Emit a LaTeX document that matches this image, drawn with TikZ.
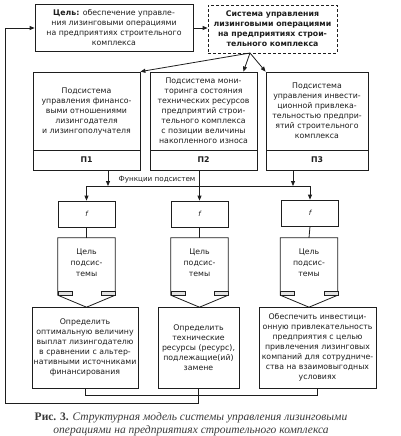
\documentclass[tikz,border=0pt]{standalone}
\usepackage{fontspec}
\setmainfont{DejaVu Sans}
\newfontfamily\capfont{Liberation Serif}
\usepackage{tikz}
\usetikzlibrary{arrows.meta,positioning}
\definecolor{ink}{HTML}{1E1E1E}
\definecolor{tabgray}{HTML}{E2E2E2}
\definecolor{capink}{HTML}{3A3A3A}
\tikzset{
  line/.style={draw=ink, line width=0.8pt, line join=miter},
  arr/.style={line, -{Triangle[length=5pt,width=4pt]}},
  box/.style={line, fill=white, align=center, inner sep=1pt, text=ink,
    font=\fontsize{7.8}{10}\selectfont},
  sysbox/.style={box, dashed, dash pattern=on 3pt off 2pt, font=\fontsize{7.8}{10}\selectfont\bfseries},
  fbox/.style={box, minimum width=57pt, minimum height=26pt, font=\fontsize{7}{9}\selectfont\itshape},
  aim/.style={minimum width=57pt, minimum height=57pt, inner sep=0pt, align=center, text=ink,
    font=\fontsize{7.8}{11}\selectfont},
  tabbox/.style={draw=ink, line width=0.4pt, fill=tabgray},
  lbl/.style={text=ink, font=\fontsize{7.2}{9}\selectfont},
}
\begin{document}
\begin{tikzpicture}[x=1pt,y=-1pt]
  \useasboundingbox (0,0) rectangle (401,436);
  % top row
  \node[box, minimum width=158pt, minimum height=47pt] (goal) at (114,28)
    {\textbf{Цель:} обеспечение управле-\\ния лизинговыми операциями\\на предприятиях строительного\\комплекса};
  \node[sysbox, minimum width=129pt, minimum height=48pt] (sys) at (272.5,29)
    {Система управления\\лизинговыми операциями\\на предприятиях строи-\\тельного комплекса};
  \draw[arr] (goal.east) -- (goal.east -| sys.west);
  \coordinate (hub) at (250,53);
  % subsystems
  \node[box, minimum width=107pt, minimum height=78pt] (s1) at (86.5,111)
    {Подсистема\\управления финансо-\\выми отношениями\\лизингодателя\\и лизингополучателя};
  \node[box, minimum width=107pt, minimum height=20pt, font=\fontsize{7.8}{10}\selectfont\bfseries] (p1) at (86.5,160) {П1};
  \node[box, minimum width=107pt, minimum height=78pt] (s2) at (203.5,111)
    {Подсистема мони-\\торинга состояния\\технических ресурсов\\предприятий строи-\\тельного комплекса\\с позиции величины\\накопленного износа};
  \node[box, minimum width=107pt, minimum height=20pt, font=\fontsize{7.8}{10}\selectfont\bfseries] (p2) at (203.5,160) {П2};
  \node[box, minimum width=102pt, minimum height=78pt] (s3) at (317,111)
    {Подсистема\\управления инвести-\\ционной привлека-\\тельностью предпри-\\ятий строительного\\комплекса};
  \node[box, minimum width=102pt, minimum height=20pt, font=\fontsize{7.8}{10}\selectfont\bfseries] (p3) at (317,160) {П3};
  \draw[arr] (hub) -- (s1.north east);
  \draw[arr] (hub) -- ([xshift=-14pt]s2.north east);
  \draw[arr] (hub) -- (s3.north west);
  % functions
  \node[fbox] (f1) at (86.5,214) {f};
  \node[fbox] (f2) at (199.5,214) {f};
  \node[fbox] (f3) at (310,213) {f};
  \coordinate (bus1) at (86.5,186);
  \coordinate (bus3) at (310,186);
  \draw[line] (bus1) -- (bus3);
  \draw[arr] (bus1) -- (f1.north);
  \draw[arr] (bus3) -- (f3.north);
  \draw[arr] ([xshift=21.5pt]p1.south) -- ([xshift=21.5pt]p1.south |- bus1);
  \draw[arr] ([xshift=-24pt]p3.south) -- ([xshift=-24pt]p3.south |- bus1);
  \draw[arr] (p2.south -| f2) -- (f2.north);
  \node[lbl] (fn) at (157,179.5) {Функции подсистем};
  % goals of subsystems
  \foreach \i/\x in {1/86.5,2/199.5,3/309}{
    \node[aim] (g\i) at (\x,266.5) {};
    \draw[line, fill=white] (g\i.south west) -- (g\i.north west) -- (g\i.north east)
      -- (g\i.south east) -- ([yshift=-12pt]g\i.south) -- cycle;
    \draw[tabbox] (g\i.south west) rectangle ++(14,-4);
    \draw[tabbox] (g\i.south east) rectangle ++(-14,-4);
    \node[aim, minimum height=0pt] at ([yshift=4pt]g\i.center) {Цель\\подсис-\\темы};
    \draw[line] (f\i.south) -- (g\i.north);
  }
  % results
  \node[box, minimum width=106pt, minimum height=81pt] (r1) at (85,347.5)
    {Определить\\оптимальную величину\\выплат лизингодателю\\в сравнении с альтер-\\нативными источниками\\финансирования};
  \node[box, minimum width=81pt, minimum height=81pt] (r2) at (198.5,347.5)
    {Определить\\технические\\ресурсы (ресурс),\\подлежащие(ий)\\замене};
  \node[box, minimum width=117pt, minimum height=81pt] (r3) at (317.5,347.5)
    {Обеспечить инвестици-\\онную привлекательность\\предприятия с целью\\привлечения лизинговых\\компаний для сотрудниче-\\ства на взаимовыгодных\\условиях};
  % feedback
  \coordinate (back) at (5,403);
  \draw[line] (r1.south) -- ++(0,7) -| (r3.south);
  \draw[arr] (r2.south) |- (back) |- (goal.west);
  % caption
  \node[text=capink, align=center, font=\capfont\fontsize{11.5}{13}\selectfont] (cap) at (191,424)
    {\textbf{Рис. 3.} \textit{Структурная модель системы управления лизинговыми}\\
     \textit{операциями на предприятиях строительного комплекса}};
\end{tikzpicture}
\end{document}
